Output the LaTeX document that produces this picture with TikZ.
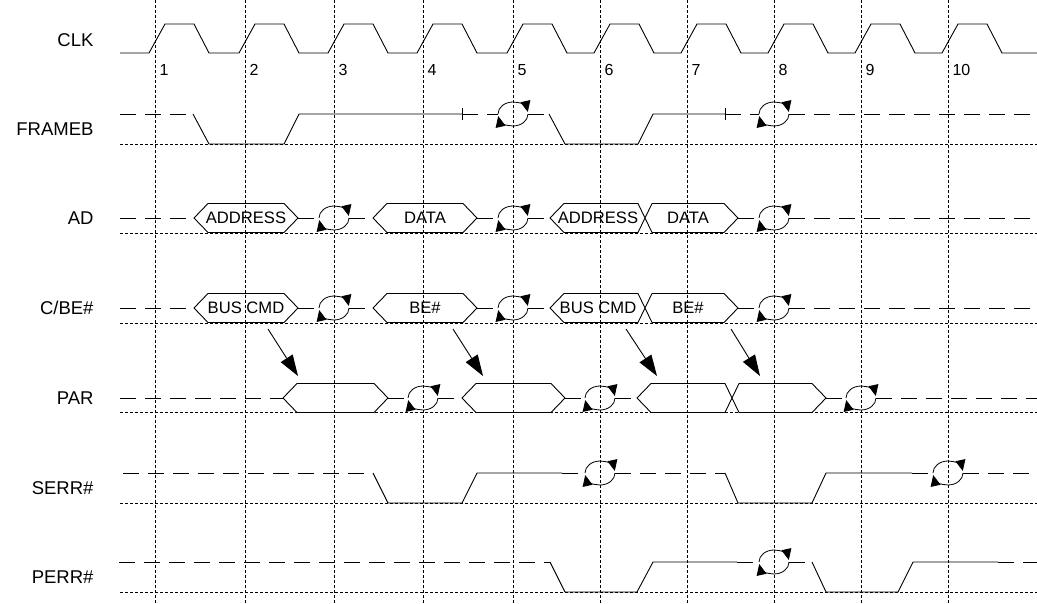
\documentclass[tikz,border=0pt]{standalone}
\usepackage{fontspec}
\setmainfont{Liberation Sans}
\usetikzlibrary{arrows.meta}

\tikzset{
  gridline/.style={dash pattern=on 3pt off 2pt, line width=0.75pt},
  tristate/.style={dash pattern=on 16pt off 9pt, line width=0.9pt},
  sig/.style={line width=0.9pt},
  tarrow/.style={line width=0.8pt, -{Triangle[length=11pt,width=10pt]}},
  parrow/.style={line width=0.9pt, -{Triangle[length=21pt,width=14pt]}},
  signame/.style={anchor=east, font=\fontsize{18.5}{22}\selectfont},
  busval/.style={font=\fontsize{16.6}{20}\selectfont},
}

\begin{document}
\begin{tikzpicture}[x=1pt,y=-1pt]
\useasboundingbox (0,0) rectangle (1037,603);
% clock edges
\foreach \x [count=\n] in {155,245,334,423,513,600,687,774,861,948} {
  \draw[gridline] (\x,0) -- (\x,603);
  \node[anchor=west, font=\fontsize{16}{19}\selectfont] (edge\n) at (\x+1,70) {\n};
}
\foreach \y in {144,233,323,412,503,592} {
  \draw[gridline] (120,\y) -- (1037,\y);
}
% signal names
\node[signame] (clk) at (97,40) {CLK};
\node[signame] (frameb) at (97,129) {FRAMEB};
\node[signame] (ad) at (97,218) {AD};
\node[signame] (cbe) at (97,308) {C/BE\#};
\node[signame] (par) at (97,398) {PAR};
\node[signame] (serr) at (97,488) {SERR\#};
\node[signame] (perr) at (97,577) {PERR\#};
% CLK
\draw[sig] (120,53) \foreach \x in {155,245,334,423,513,600,687,774,861,948} {
  -- (\x-6,53) -- (\x+10,24) -- (\x+39,24) -- (\x+54,53) } -- (1037,53);
% FRAMEB
\draw[tristate] (120,114) -- (193,114);
\draw[sig] (193,114) -- (209,144) -- (284,144) -- (299,114) -- (462,114);
\draw[sig] (462,108) -- (462,120);
\draw[tristate] (462,114) -- (498,114);
\draw[tristate] (528,114) -- (549,114);
\draw[sig] (549,114) -- (565,144) -- (638,144) -- (653,114) -- (725,114);
\draw[sig] (725,108) -- (725,120);
\draw[tristate] (725,114) -- (759,114);
\draw[tristate] (789,114) -- (1037,114);
% AD and C/BE#
\foreach \y in {218,308} {
  \draw[tristate] (120,\y) -- (194,\y);
  \draw[tristate] (298,\y) -- (319,\y);
  \draw[tristate] (349,\y) -- (373,\y);
  \draw[tristate] (477,\y) -- (498,\y);
  \draw[tristate] (528,\y) -- (550,\y);
  \draw[tristate] (738,\y) -- (759,\y);
  \draw[tristate] (789,\y) -- (1037,\y);
  \draw[sig] (550,\y) -- (564,\y-14.5) -- (638,\y-14.5) -- (652,\y+14.5) -- (724,\y+14.5)
    -- (738,\y) -- (724,\y-14.5) -- (652,\y-14.5) -- (638,\y+14.5) -- (564,\y+14.5) -- cycle;
}
\foreach \a/\b/\y in {194/298/218, 373/477/218, 194/298/308, 373/477/308, 283/388/398, 462/565/398} {
  \draw[sig] (\a,\y) -- (\a+14,\y-14.5) -- (\b-14,\y-14.5) -- (\b,\y)
    -- (\b-14,\y+14.5) -- (\a+14,\y+14.5) -- cycle;
}
\node[busval] (ad1) at (246,218) {ADDRESS};
\node[busval] (ad2) at (425,218) {DATA};
\node[busval] (ad3) at (598,218) {ADDRESS};
\node[busval] (ad4) at (688,218) {DATA};
\node[busval] (cbe1) at (246,308) {BUS CMD};
\node[busval] (cbe2) at (425,308) {BE\#};
\node[busval] (cbe3) at (598,308) {BUS CMD};
\node[busval] (cbe4) at (688,308) {BE\#};
% PAR
\draw[tristate] (120,398) -- (283,398);
\draw[tristate] (388,398) -- (409,398);
\draw[tristate] (438,398) -- (462,398);
\draw[tristate] (565,398) -- (586,398);
\draw[tristate] (615,398) -- (637,398);
\draw[tristate] (826,398) -- (847,398);
\draw[tristate] (876,398) -- (1037,398);
\draw[sig] (637,398) -- (651,383.5) -- (725,383.5) -- (739,412.5) -- (812,412.5) -- (826,398)
  -- (812,383.5) -- (739,383.5) -- (725,412.5) -- (651,412.5) -- cycle;
% parity follows C/BE# one clock later
\foreach \n/\a/\b in {1/268/298, 2/453/483, 3/626/657, 4/731/760} {
  \coordinate (cmd\n) at (\a,329);
  \coordinate (parity\n) at (\b,376);
  \draw[parrow] (cmd\n) -- (parity\n);
}
% SERR#
\draw[tristate] (123,473) -- (373,473);
\draw[sig] (373,473) -- (388,503) -- (462,503) -- (477,473) -- (562,473);
\draw[tristate] (562,473) -- (586,473);
\draw[tristate] (615,473) -- (725,473);
\draw[sig] (725,473) -- (738,503) -- (812,503) -- (826,473) -- (912,473);
\draw[tristate] (912,473) -- (934,473);
\draw[tristate] (963,473) -- (1037,473);
% PERR#
\draw[tristate] (119,562) -- (550,562);
\draw[sig] (550,562) -- (565,592) -- (637,592) -- (653,562) -- (737,562);
\draw[tristate] (737,562) -- (760,562);
\draw[tristate] (789,562) -- (812,562);
\draw[sig] (812,562) -- (826,592) -- (898,592) -- (913,562) -- (998,562);
\draw[tristate] (998,562) -- (1037,562);
% turnaround cycles
\foreach \x/\y in {513/114, 774/114, 334/218, 513/218, 774/218, 334/308, 513/308, 774/308,
    423/398, 600/398, 861/398, 600/473, 948/473, 774/562} {
  \draw[tarrow] (\x,\y) ++(180:15 and 12) arc[start angle=180, end angle=350, x radius=15, y radius=12];
  \draw[tarrow] (\x,\y) ++(0:15 and 12) arc[start angle=0, end angle=170, x radius=15, y radius=12];
}
\end{tikzpicture}
\end{document}
